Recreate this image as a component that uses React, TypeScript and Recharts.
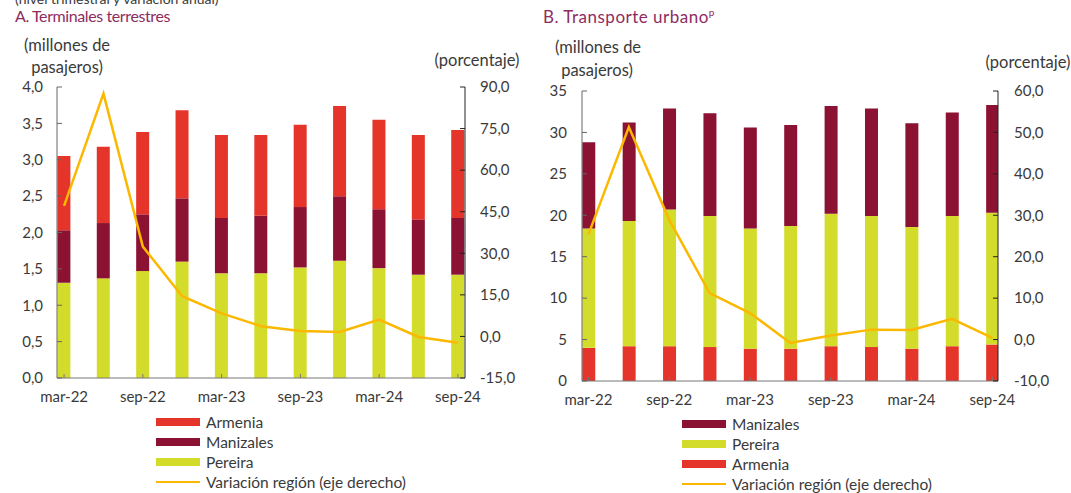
import { ComposedChart, Bar, Line, XAxis, YAxis } from 'recharts';

const quarters = [
  'mar-22', 'jun-22', 'sep-22', 'dec-22', 'mar-23', 'jun-23',
  'sep-23', 'dec-23', 'mar-24', 'jun-24', 'sep-24',
];
const labelIdx = [0, 2, 4, 6, 8, 10];

// A. Terminales terrestres (millones de pasajeros / %)
const terPereira = [1.31, 1.37, 1.47, 1.6, 1.44, 1.44, 1.52, 1.61, 1.51, 1.42, 1.42];
const terManizales = [0.72, 0.76, 0.78, 0.87, 0.76, 0.79, 0.83, 0.89, 0.81, 0.76, 0.78];
const terArmenia = [1.02, 1.05, 1.13, 1.21, 1.14, 1.11, 1.13, 1.24, 1.23, 1.16, 1.21];
const terVariacion = [47.1, 87.6, 32.4, 14.5, 8.3, 3.7, 2.0, 1.6, 6.1, -0.2, -2.3];

// B. Transporte urbano
const urbArmenia = [4.0, 4.2, 4.2, 4.1, 3.9, 3.9, 4.2, 4.1, 3.9, 4.2, 4.4];
const urbPereira = [14.4, 15.1, 16.5, 15.8, 14.5, 14.8, 16.0, 15.8, 14.7, 15.7, 15.9];
const urbManizales = [10.4, 11.9, 12.2, 12.4, 12.2, 12.2, 13.0, 13.0, 12.5, 12.5, 13.0];
const urbVariacion = [25.4, 51.3, 28.9, 11.2, 6.4, -0.8, 1.0, 2.4, 2.3, 5.0, 0.4];

const leftTicksA = [0, 0.5, 1, 1.5, 2, 2.5, 3, 3.5, 4];
const rightTicksA = [-15, 0, 15, 30, 45, 60, 75, 90];
const leftTicksB = [0, 5, 10, 15, 20, 25, 30, 35];
const rightTicksB = [-10, 0, 10, 20, 30, 40, 50, 60];

const RED = '#e5352a';
const WINE = '#8c1233';
const LIME = '#d4dc2b';
const GOLD = '#fbb800';
const TITLE = '#8e2c61';
const TEXT = '#3a3a3a';
const FONT = 'Lato, sans-serif';

const terData = quarters.map((q, i) => ({
  i, q,
  pereira: terPereira[i],
  manizales: terManizales[i],
  armenia: terArmenia[i],
  variacion: terVariacion[i],
}));

const urbData = quarters.map((q, i) => ({
  i, q,
  armenia: urbArmenia[i],
  pereira: urbPereira[i],
  manizales: urbManizales[i],
  variacion: urbVariacion[i],
}));

const comma1 = (v: number) => v.toFixed(1).replace('.', ',');
const tickStyle = { fill: TEXT, fontSize: 15, fontFamily: FONT };

type LegendItem = { name: string; color: string; line?: boolean };

function Legend({ items, left, top }: { items: LegendItem[]; left: number; top: number }) {
  return (
    <div style={{ position: 'absolute', left, top, fontFamily: FONT, fontSize: 15.5, color: TEXT }}>
      {items.map((it) => (
        <div key={it.name} style={{ display: 'flex', alignItems: 'center', height: 20 }}>
          <div
            style={{
              width: 44,
              height: it.line ? 2 : 8,
              background: it.color,
              marginRight: 6,
            }}
          />
          <span>{it.name}</span>
        </div>
      ))}
    </div>
  );
}

function Label({ x, y, children }: { x: number; y: number; children: any }) {
  return (
    <div
      style={{
        position: 'absolute',
        left: x,
        top: y,
        transform: 'translateX(-50%)',
        fontFamily: FONT,
        fontSize: 16.5,
        color: TEXT,
        whiteSpace: 'nowrap',
        lineHeight: '20px',
      }}
    >
      {children}
    </div>
  );
}

export default function App() {
  const xLabel = (v: number) => quarters[v] ?? '';
  return (
    <div
      style={{
        position: 'absolute',
        left: 0,
        top: 0,
        width: 1071,
        height: 493,
        background: '#fff',
        overflow: 'hidden',
      }}
    >
      <div style={{ position: 'absolute', left: 15, top: -10, fontFamily: FONT, fontSize: 14, color: TEXT }}>
        (nivel trimestral y variación anual)
      </div>
      <div
        style={{
          position: 'absolute', left: 15, top: 6, fontFamily: FONT,
          fontSize: 16, letterSpacing: -0.4, color: TITLE,
        }}
      >
        A. Terminales terrestres
      </div>
      <div
        style={{
          position: 'absolute', left: 543, top: 6, fontFamily: FONT,
          fontSize: 17, letterSpacing: 0.5, color: TITLE,
        }}
      >
        B. Transporte urbano<sup style={{ fontSize: 10 }}>p</sup>
      </div>

      <Label x={67} y={35}>(millones de</Label>
      <Label x={67} y={57}>pasajeros)</Label>
      <Label x={477} y={50}>(porcentaje)</Label>
      <Label x={598} y={37}>(millones de</Label>
      <Label x={597} y={60}>pasajeros)</Label>
      <Label x={1028} y={52}>(porcentaje)</Label>

      <div style={{ position: 'absolute', left: 0, top: 0 }}>
        <ComposedChart
          width={540}
          height={410}
          data={terData}
          margin={{ top: 87, right: 15, bottom: 2, left: 12 }}
        >
          <XAxis
            dataKey="i"
            type="number"
            domain={[-0.18, 10.18]}
            ticks={labelIdx}
            tickFormatter={xLabel}
            interval={0}
            height={30}
            tick={tickStyle}
            stroke="#777"
            tickSize={-4}
            tickMargin={17}
            allowDataOverflow
          />
          <YAxis
            yAxisId="left"
            domain={[0, 4]}
            ticks={leftTicksA}
            tickFormatter={comma1}
            width={45}
            tick={tickStyle}
            stroke="#666"
            tickSize={-5}
            tickMargin={19}
          />
          <YAxis
            yAxisId="right"
            orientation="right"
            domain={[-15, 90]}
            ticks={rightTicksA}
            tickFormatter={comma1}
            width={60}
            tick={tickStyle}
            stroke="#222"
            tickSize={-5}
            tickMargin={20}
          />
          <Bar yAxisId="left" dataKey="pereira" stackId="a" fill={LIME} barSize={13} isAnimationActive={false} />
          <Bar yAxisId="left" dataKey="manizales" stackId="a" fill={WINE} barSize={13} isAnimationActive={false} />
          <Bar yAxisId="left" dataKey="armenia" stackId="a" fill={RED} barSize={13} isAnimationActive={false} />
          <Line
            yAxisId="right"
            dataKey="variacion"
            stroke={GOLD}
            strokeWidth={2.5}
            dot={false}
            type="linear"
            isAnimationActive={false}
          />
        </ComposedChart>
      </div>

      <div style={{ position: 'absolute', left: 530, top: 0 }}>
        <ComposedChart
          width={541}
          height={413}
          data={urbData}
          margin={{ top: 91, right: 13, bottom: 2, left: 7 }}
        >
          <XAxis
            dataKey="i"
            type="number"
            domain={[-0.16, 10.14]}
            ticks={labelIdx}
            tickFormatter={xLabel}
            interval={0}
            height={30}
            tick={tickStyle}
            stroke="#777"
            tickSize={-4}
            tickMargin={17}
            allowDataOverflow
          />
          <YAxis
            yAxisId="left"
            domain={[0, 35]}
            ticks={leftTicksB}
            width={45}
            tick={tickStyle}
            stroke="#666"
            tickSize={-5}
            tickMargin={20}
          />
          <YAxis
            yAxisId="right"
            orientation="right"
            domain={[-10, 60]}
            ticks={rightTicksB}
            tickFormatter={comma1}
            width={60}
            tick={tickStyle}
            stroke="#222"
            tickSize={-5}
            tickMargin={21}
          />
          <Bar yAxisId="left" dataKey="armenia" stackId="b" fill={RED} barSize={13} isAnimationActive={false} />
          <Bar yAxisId="left" dataKey="pereira" stackId="b" fill={LIME} barSize={13} isAnimationActive={false} />
          <Bar yAxisId="left" dataKey="manizales" stackId="b" fill={WINE} barSize={13} isAnimationActive={false} />
          <Line
            yAxisId="right"
            dataKey="variacion"
            stroke={GOLD}
            strokeWidth={2.5}
            dot={false}
            type="linear"
            isAnimationActive={false}
          />
        </ComposedChart>
      </div>

      <Legend
        left={156}
        top={412}
        items={[
          { name: 'Armenia', color: RED },
          { name: 'Manizales', color: WINE },
          { name: 'Pereira', color: LIME },
          { name: 'Variación región (eje derecho)', color: GOLD, line: true },
        ]}
      />
      <Legend
        left={682}
        top={414}
        items={[
          { name: 'Manizales', color: WINE },
          { name: 'Pereira', color: LIME },
          { name: 'Armenia', color: RED },
          { name: 'Variación región (eje derecho)', color: GOLD, line: true },
        ]}
      />
    </div>
  );
}
